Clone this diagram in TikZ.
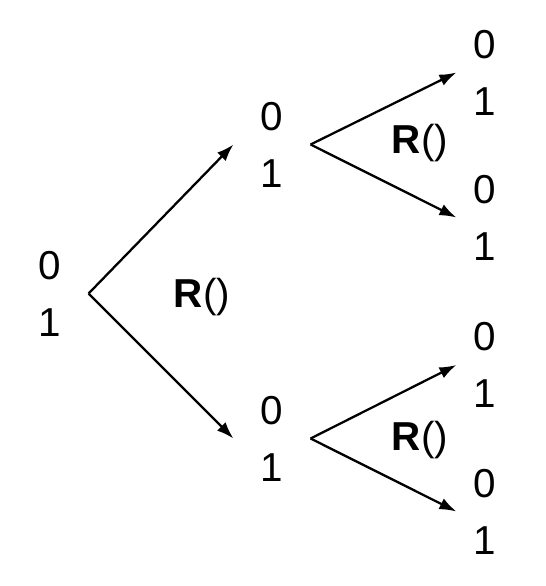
\documentclass[tikz,border=0pt]{standalone}
\usepackage{fontspec}
\setmainfont{Liberation Sans}
\usetikzlibrary{arrows.meta}

\tikzset{
  pair/.style={align=center, inner xsep=0.54cm, inner ysep=0pt,
    font=\fontsize{23}{32.4}\selectfont},
  leaf/.style={pair, inner xsep=0.34cm},
  branch/.style={-{Latex[length=0.34cm,width=0.24cm]}, line width=1.3pt},
  call/.style={font=\fontsize{23}{26}\selectfont}
}

\begin{document}
\begin{tikzpicture}[x=0.02cm, y=-0.02cm]
    \useasboundingbox (0,0) rectangle (546,586);
    % first draw
    \node[pair] (root) at (50,293.5) {0\\1};
    \node[pair] (up) at (272,144.5) {0\\1};
    \node[pair] (down) at (272,438.5) {0\\1};
    % second draw
    \node[leaf] (upup) at (485,72.5) {0\\1};
    \node[leaf] (updown) at (485,217.5) {0\\1};
    \node[leaf] (downup) at (485,365) {0\\1};
    \node[leaf] (downdown) at (485,511.5) {0\\1};
    \draw[branch] (root.east) -- (up.west);
    \draw[branch] (root.east) -- (down.west);
    \draw[branch] (up.east) -- (upup.west);
    \draw[branch] (up.east) -- (updown.west);
    \draw[branch] (down.east) -- (downup.west);
    \draw[branch] (down.east) -- (downdown.west);
    \node[call] (rootcall) at (202,297) {\textbf{R}()};
    \node[call] (upcall) at (420,143) {\textbf{R}()};
    \node[call] (downcall) at (420,440) {\textbf{R}()};
  \end{tikzpicture}
\end{document}
